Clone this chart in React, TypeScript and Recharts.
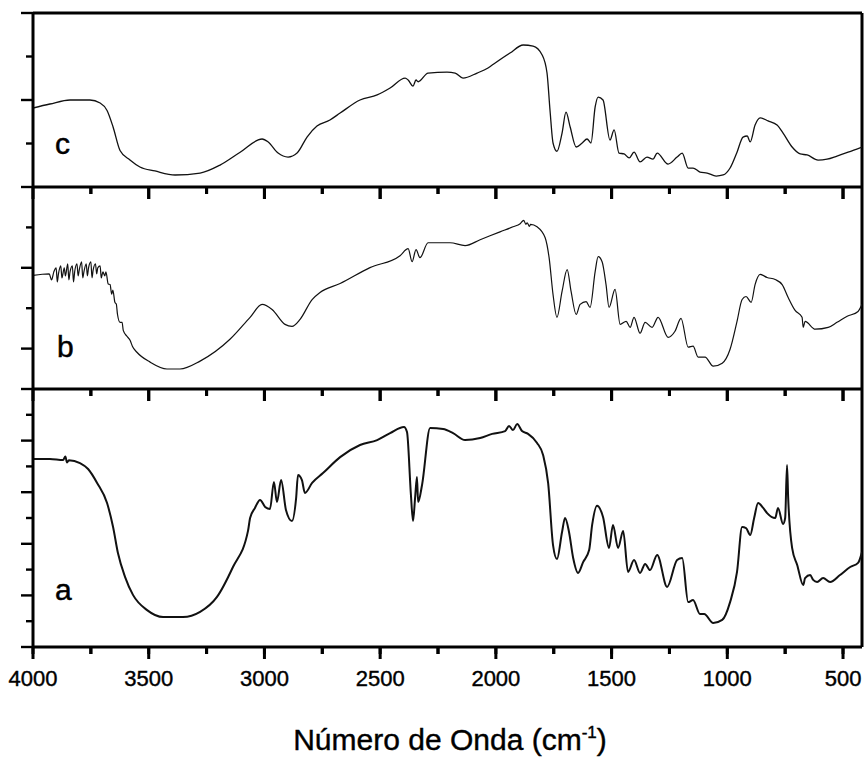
import { LineChart, Line, XAxis, YAxis, ReferenceLine, ReferenceArea } from 'recharts';

// FTIR spectra, [wavenumber cm-1, relative transmittance 0..100 within each panel]
const spectrumC: [number, number][] = [
  [4000, 45.4], [3927, 47.7], [3840, 50], [3754, 50], [3710, 48.3], [3680, 44], [3654, 34.5],
  [3624, 21], [3581, 15.5], [3538, 11.5], [3473, 9.2], [3386, 6.9], [3278, 8], [3192, 12.6],
  [3105, 20], [3010, 27.6], [2984, 25.9], [2941, 19.5], [2898, 17.2], [2859, 19.5], [2816, 28.7],
  [2773, 35], [2717, 38.5], [2673, 42.5], [2587, 50], [2513, 52.9], [2457, 56.9], [2392, 62.6],
  [2379, 61.5], [2358, 58], [2345, 61.5], [2336, 60.5], [2293, 65.5], [2211, 66], [2176, 65.5],
  [2142, 62.6], [2081, 65.5], [2034, 68.4], [2003, 71.3], [1939, 77], [1882, 81.6], [1839, 81],
  [1800, 75.9], [1779, 65.5], [1766, 44], [1753, 25.3], [1736, 20.5], [1714, 31], [1697, 43],
  [1679, 34.5], [1653, 23], [1627, 25.3], [1606, 27.6], [1589, 25.3], [1571, 46], [1558, 51.7],
  [1537, 50], [1507, 27], [1489, 32.8], [1468, 19.5], [1446, 19], [1424, 16.7], [1403, 20],
  [1377, 14.4], [1347, 17.2], [1321, 16], [1303, 19.5], [1256, 13.2], [1217, 17.2], [1195, 19.5],
  [1169, 10.9], [1148, 10.9], [1118, 8.6], [1087, 8], [1048, 6.3], [1018, 6.9], [988, 10.9],
  [958, 20], [932, 28.7], [914, 29.3], [901, 25.9], [880, 35.6], [858, 39.7], [824, 38],
  [785, 35.6], [759, 31], [720, 23], [685, 19], [655, 18.4], [608, 15.5], [569, 16], [526, 17.8],
  [478, 20], [418, 23],
];

const spectrumB: [number, number][] = [
  [4000, 56.2], [3960, 56.8], [3930, 57], [3920, 54], [3910, 58], [3900, 60], [3895, 53], [3890, 57],
  [3880, 61], [3875, 55], [3865, 60], [3860, 56], [3850, 62], [3845, 54], [3840, 58], [3830, 61],
  [3825, 53], [3820, 58], [3810, 62], [3805, 56], [3800, 59], [3790, 63], [3785, 55], [3780, 58],
  [3770, 62], [3765, 56], [3760, 60], [3750, 63], [3745, 55], [3740, 59], [3730, 62], [3725, 57],
  [3720, 60], [3710, 61], [3705, 55], [3698, 58], [3690, 56], [3685, 58], [3675, 52], [3667, 51.7],
  [3660, 47], [3655, 49], [3646, 42.9], [3640, 42], [3635, 37], [3624, 33], [3615, 33],
  [3610, 29], [3594, 26.1], [3580, 24], [3570, 21], [3551, 18.2], [3494, 13.3], [3421, 9.9],
  [3365, 9.9], [3278, 13.8], [3149, 24.6], [3062, 35.5], [3010, 41.9], [2967, 39.4], [2911, 32],
  [2881, 31], [2846, 34.5], [2794, 44.3], [2760, 47.8], [2673, 52.2], [2544, 60.1], [2414, 66],
  [2379, 69.5], [2362, 63], [2345, 69], [2328, 65], [2293, 72.4], [2198, 72.4], [2133, 71],
  [2068, 73.9], [1982, 77.8], [1926, 80.3], [1895, 81.8], [1880, 83.5], [1870, 81.5], [1865, 82.3],
  [1855, 80.5], [1850, 81.5], [1822, 80.3], [1787, 74.9], [1770, 65], [1753, 46.8], [1736, 35.5],
  [1714, 48.3], [1692, 59.1], [1675, 48.3], [1653, 36.9], [1636, 41.9], [1610, 43.3], [1593, 40.4],
  [1571, 58.1], [1558, 65.5], [1541, 63], [1524, 51.7], [1511, 40.4], [1485, 49.3], [1463, 32],
  [1437, 33.5], [1420, 30.5], [1403, 35.5], [1377, 27.6], [1355, 33], [1325, 30.5], [1299, 35.5],
  [1256, 25.6], [1226, 28.6], [1200, 35], [1169, 20.7], [1148, 21.2], [1126, 15.8], [1096, 15.8],
  [1061, 11.3], [1022, 12.8], [988, 19.7], [958, 33.5], [936, 44.3], [919, 45.8], [897, 42.9],
  [880, 51.7], [858, 56.7], [828, 55.2], [793, 54.2], [763, 51.7], [737, 45.3], [707, 38.9],
  [677, 35.5], [672, 30.5], [664, 33.5], [620, 29.6], [564, 30.5], [526, 33], [482, 36],
  [435, 38.4], [418, 41.9],
];

const spectrumA: [number, number][] = [
  [4000, 72.9], [3927, 72.9], [3870, 72.5], [3860, 73.8], [3853, 71.5], [3845, 72.4], [3797, 71.3],
  [3762, 69], [3723, 63.6], [3680, 55.8], [3654, 46.5], [3633, 36.4], [3602, 27.1], [3568, 20.2],
  [3507, 14.3], [3438, 11.6], [3352, 11.6], [3278, 13.6], [3205, 19.4], [3136, 31], [3071, 45],
  [3062, 50], [3041, 53.9], [3019, 57], [2997, 54.3], [2976, 53.5], [2959, 64], [2946, 56.2],
  [2928, 64.7], [2907, 53.1], [2881, 48.8], [2863, 57.8], [2855, 66.7], [2838, 64.7], [2825, 59.7],
  [2794, 63.6], [2747, 67.4], [2673, 73.6], [2587, 78.3], [2513, 80.2], [2457, 82.9], [2397, 85.3],
  [2384, 83.3], [2367, 58.9], [2358, 48.8], [2349, 57.8], [2341, 65.9], [2336, 56.2], [2319, 62.8],
  [2284, 84.9], [2228, 84.5], [2185, 82.9], [2133, 80.2], [2068, 81], [2016, 82.6], [1960, 83.7],
  [1943, 85.7], [1926, 84.1], [1908, 86.4], [1887, 83.7], [1861, 82.6], [1822, 79.1], [1796, 74.4],
  [1774, 63.4], [1753, 39.5], [1736, 34.1], [1714, 44.6], [1701, 50], [1684, 44.6], [1666, 34.5],
  [1645, 28.7], [1623, 32.9], [1597, 37.6], [1584, 47.3], [1563, 54.7], [1537, 50.4], [1511, 38.4],
  [1494, 47.3], [1472, 38.4], [1450, 45], [1429, 29.1], [1403, 33.7], [1377, 28.7], [1355, 32.2],
  [1334, 29.8], [1303, 35.7], [1260, 23.3], [1217, 33.7], [1195, 34.5], [1169, 17.4], [1148, 18.2],
  [1118, 12.8], [1100, 12.8], [1061, 9.3], [1022, 10.5], [988, 17.4], [958, 29.1], [936, 46.5],
  [919, 46.1], [901, 43.4], [884, 50], [867, 55.8], [845, 53.9], [828, 51.9], [793, 50], [781, 53.9],
  [759, 47.7], [750, 50], [742, 70.5], [737, 57.8], [720, 38.4], [698, 31.8], [672, 24], [664, 26.7],
  [642, 27.9], [629, 26], [612, 25.2], [586, 26.7], [556, 25.2], [513, 27.9], [469, 31], [435, 32.6],
  [418, 36.8],
];

const xTicks = [4000, 3750, 3500, 3250, 3000, 2750, 2500, 2250, 2000, 1750, 1500, 1250, 1000, 750, 500];
const xMajor = [4000, 3500, 3000, 2500, 2000, 1500, 1000, 500];

const yTicksC = [0, 25, 50, 75, 100];
const yMajorC = [0, 50, 100];
const yTicksB = [0, 20, 40, 60, 80, 100];
const yMajorB = [0, 20, 60, 100];
const yTicksA = [0, 10, 20, 30, 40, 50, 60, 70, 80, 90, 100];
const yMajorA = [0, 20, 40, 60, 80, 100];

const FONT = '"Liberation Sans", Arial, sans-serif';

// layout: plot spans y 13..647 px; the three panels are stacked inside it
const PLOT_TOP = 13;
const PLOT_BOTTOM = 647;
const panels = [
  { id: 'c', spectrum: spectrumC, yTop: 13, yBot: 187, ticks: yTicksC, major: yMajorC, width: 1.3 },
  { id: 'b', spectrum: spectrumB, yTop: 187, yBot: 389, ticks: yTicksB, major: yMajorB, width: 1.2 },
  { id: 'a', spectrum: spectrumA, yTop: 389, yBot: 647, ticks: yTicksA, major: yMajorA, width: 2 },
];

// each panel's 0..100 maps onto its own band; the domain over the whole plot follows
const domainOf = (p: { yTop: number; yBot: number }) => {
  const k = 100 / (p.yBot - p.yTop);
  return [-(PLOT_BOTTOM - p.yBot) * k, 100 + (p.yTop - PLOT_TOP) * k] as [number, number];
};
const panelA = panels[2];
const kA = 100 / (panelA.yBot - panelA.yTop);
const domainA = domainOf(panelA);
// pixel row -> value on panel a's axis (the one visible left axis)
const rowToA = (y: number) => (PLOT_BOTTOM - y) * kA;

const leftTicks: number[] = [];
const leftMajor: number[] = [];
panels.forEach((p) => {
  p.ticks.forEach((v) => {
    const a = rowToA(p.yBot - (v / 100) * (p.yBot - p.yTop));
    if (!leftTicks.some((t) => Math.abs(t - a) < 0.5)) leftTicks.push(a);
    if (p.major.includes(v)) leftMajor.push(a);
  });
});
leftTicks.sort((m, n) => m - n);
const isLeftMajor = (v: number) => leftMajor.some((m) => Math.abs(m - v) < 0.5);

const dividers = [187, 389];
// half a tick's thickness in wavenumber units (x scale is ~0.2314 px per cm-1)
const HALF_TICK = 1.5 / 0.2314;

export default function App() {
  return (
    <div style={{ position: 'absolute', left: 0, top: 0, width: 864, height: 760, background: '#fff', fontFamily: FONT }}>
      <LineChart width={864} height={760} margin={{ top: PLOT_TOP, right: 2, left: 0, bottom: 0 }}>
        <XAxis
          dataKey="w"
          type="number"
          domain={[418, 4000]}
          reversed
          allowDataOverflow
          ticks={xTicks}
          interval={0}
          height={760 - PLOT_BOTTOM}
          axisLine={{ stroke: '#000', strokeWidth: 3 }}
          tickLine={{ stroke: '#000', strokeWidth: 3 }}
          tickSize={7}
          tickMargin={0}
          tick={(p: any) => {
            const major = xMajor.includes(p.payload.value);
            return (
              <g>
                <rect x={p.x - 1.5} y={p.y - 8} width={3} height={major ? 13 : 8} fill="#000" />
                {major ? (
                  <text x={p.x} y={p.y + 32} textAnchor="middle" fontSize={22} fontFamily={FONT}
                    fill="#000" stroke="#000" strokeWidth={0.4}>
                    {p.payload.value}
                  </text>
                ) : null}
              </g>
            );
          }}
        />
        <YAxis
          yAxisId="a"
          type="number"
          domain={domainA}
          allowDataOverflow
          ticks={leftTicks}
          interval={0}
          width={33}
          axisLine={{ stroke: '#000', strokeWidth: 3 }}
          tickLine={false}
          tickSize={0}
          tickMargin={0}
          tick={(p: any) => (
            <line x1={p.x} x2={p.x - (isLeftMajor(p.payload.value) ? 12 : 7)} y1={p.y} y2={p.y}
              stroke="#000" strokeWidth={2.4} />
          )}
        />
        <YAxis yAxisId="b" type="number" domain={domainOf(panels[1])} allowDataOverflow hide />
        <YAxis yAxisId="c" type="number" domain={domainOf(panels[0])} allowDataOverflow hide />

        {/* x ticks hanging under each divider */}
        {dividers.flatMap((d) =>
          xTicks.map((v) => (
            <ReferenceArea
              key={`area-${d}-${v}`}
              yAxisId="a"
              x1={v + HALF_TICK}
              x2={v - HALF_TICK}
              y1={rowToA(d + (xMajor.includes(v) ? 12 : 7))}
              y2={rowToA(d)}
              fill="#000"
              fillOpacity={1}
              stroke="none"
            />
          ))
        )}
        {dividers.flatMap((d) =>
          xTicks.map((v) => (
            <ReferenceLine
              key={`seg-${d}-${v}`}
              yAxisId="a"
              segment={[{ x: v, y: rowToA(d) }, { x: v, y: rowToA(d + (xMajor.includes(v) ? 12 : 7)) }]}
              stroke="#000"
              strokeWidth={3}
            />
          ))
        )}

        {/* frame: top edge, panel dividers, right edge */}
        <ReferenceLine yAxisId="a" y={domainA[1]} stroke="#000" strokeWidth={3} />
        {dividers.map((d) => (
          <ReferenceLine key={d} yAxisId="a" y={rowToA(d)} stroke="#000" strokeWidth={3} />
        ))}
        <ReferenceLine yAxisId="a" x={418} stroke="#000" strokeWidth={3} />

        {panels.map((p) => (
          <Line
            key={p.id}
            yAxisId={p.id}
            data={p.spectrum.map(([w, t]) => ({ w, t }))}
            type="monotone"
            dataKey="t"
            stroke="#111"
            strokeWidth={p.width}
            dot={false}
            isAnimationActive={false}
          />
        ))}
      </LineChart>

      <div style={{ position: 'absolute', left: 55, top: 129, fontSize: 30, lineHeight: '30px', WebkitTextStroke: '0.5px #000' }}>c</div>
      <div style={{ position: 'absolute', left: 57, top: 332, fontSize: 30, lineHeight: '30px', WebkitTextStroke: '0.5px #000' }}>b</div>
      <div style={{ position: 'absolute', left: 55, top: 575, fontSize: 30, lineHeight: '30px', WebkitTextStroke: '0.5px #000' }}>a</div>
      <div style={{ position: 'absolute', left: 250, top: 725, width: 400, textAlign: 'center', fontSize: 30, lineHeight: '30px', whiteSpace: 'nowrap', WebkitTextStroke: '0.4px #000' }}>
        Número de Onda (cm<span style={{ fontSize: 17, position: 'relative', top: -12 }}>-1</span>)
      </div>
    </div>
  );
}
